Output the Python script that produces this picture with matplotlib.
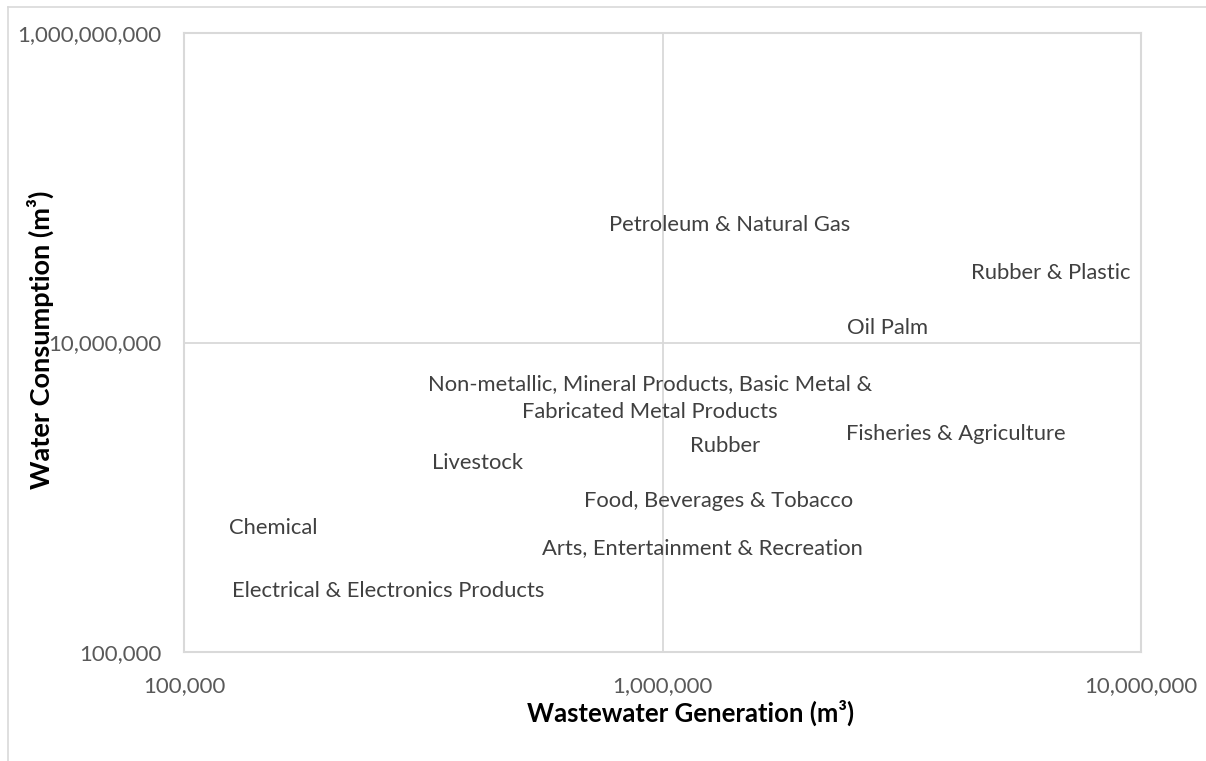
import matplotlib.pyplot as plt
from matplotlib.lines import Line2D

# label centre positions (log-log)
sectors = [
    "Petroleum & Natural Gas",
    "Rubber & Plastic",
    "Oil Palm",
    "Non-metallic, Mineral Products, Basic Metal &\nFabricated Metal Products",
    "Rubber",
    "Fisheries & Agriculture",
    "Livestock",
    "Food, Beverages & Tobacco",
    "Chemical",
    "Arts, Entertainment & Recreation",
    "Electrical & Electronics Products",
]
wastewater = [1.38e6, 6.49e6, 2.96e6, 9.42e5, 1.35e6, 4.1e6, 4.11e5, 1.31e6, 1.54e5, 1.21e6, 2.67e5]
consumption = [5.75e7, 2.81e7, 1.24e7, 4.38e6, 2.14e6, 2.56e6, 1.66e6, 9.46e5, 6.33e5, 4.7e5, 2.48e5]

x_ticks = [1e5, 1e6, 1e7]
x_ticklabels = ["100,000", "1,000,000", "10,000,000"]
y_ticks = [1e5, 1e7, 1e9]
y_ticklabels = ["100,000", "10,000,000", "1,000,000,000"]

plt.rcParams['font.family'] = ['Lato', 'DejaVu Sans']
grid_col = "#d9d9d9"
text_col = "#404040"

fig = plt.figure(figsize=(12.06, 7.61), dpi=100)
ax = fig.add_axes([184 / 1206, 1 - 652 / 761, (1141 - 184) / 1206, (652 - 33) / 761])

ax.set_xscale("log")
ax.set_yscale("log")
ax.set_xlim(1e5, 1e7)
ax.set_ylim(1e5, 1e9)

for name, xv, yv in zip(sectors, wastewater, consumption):
    ax.text(xv, yv, name, ha="center", va="center", fontsize=15.8,
            color=text_col, linespacing=1.45)

ax.set_xticks(x_ticks)
ax.set_xticklabels(x_ticklabels)
ax.set_yticks(y_ticks)
ax.set_yticklabels(y_ticklabels)
ax.minorticks_off()
ax.tick_params(length=0, labelsize=16, labelcolor="#595959")
ax.tick_params(axis="x", pad=17)
ax.tick_params(axis="y", pad=16)

ax.axvline(1e6, color=grid_col, lw=1.3, zorder=0)
ax.axhline(1e7, color=grid_col, lw=1.3, zorder=0)
for s in ax.spines.values():
    s.set_color(grid_col)
    s.set_linewidth(1.5)

ax.set_xlabel("Wastewater Generation (m³)", fontsize=18.5, fontweight="bold", color="black")
ax.set_ylabel("Water Consumption (m³)", fontsize=19.5, fontweight="bold", color="black")
ax.xaxis.set_label_coords(0.529, -0.0985)
ax.yaxis.set_label_coords(-0.150, 0.504)
ax.xaxis.label.set_va("center")
ax.yaxis.label.set_va("center")

# chart area outline (top and left edges visible)
fig.add_artist(Line2D([8 / 1206, 1.0], [1 - 7 / 761, 1 - 7 / 761], color=grid_col, lw=1.2,
                      transform=fig.transFigure))
fig.add_artist(Line2D([8 / 1206, 8 / 1206], [0, 1 - 7 / 761], color=grid_col, lw=1.2,
                      transform=fig.transFigure))

fig.savefig("out.png", dpi=100)
